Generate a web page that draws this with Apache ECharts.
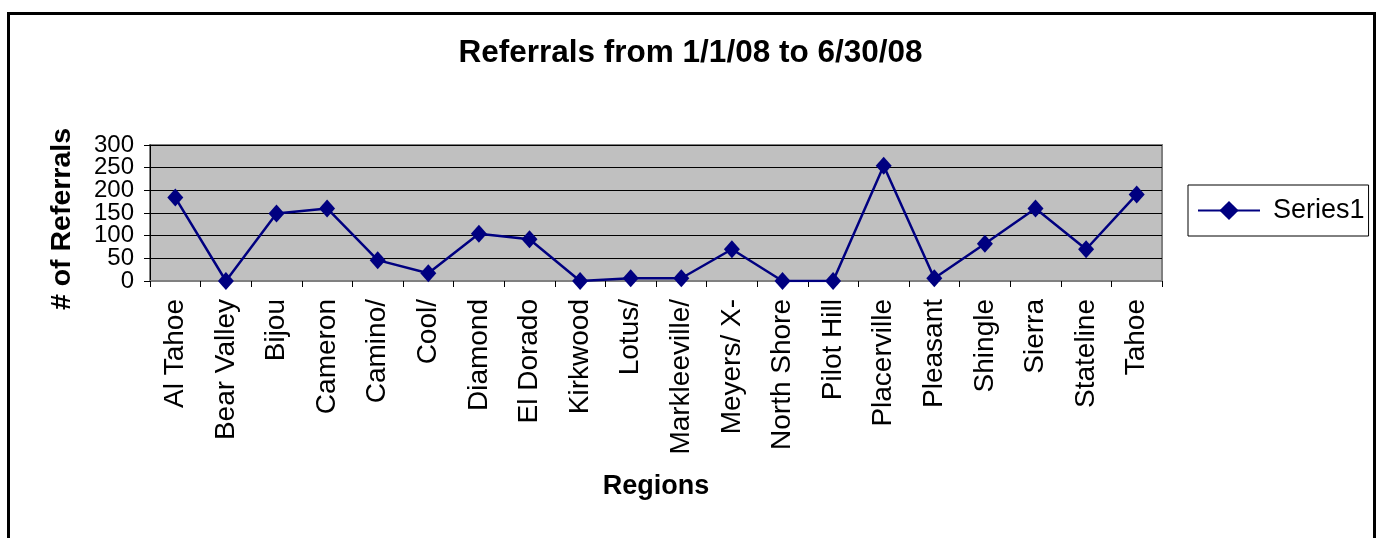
<!DOCTYPE html>
<html>
<head>
<meta charset="utf-8">
<script src="https://cdn.jsdelivr.net/npm/echarts@6/dist/echarts.min.js"></script>
<style>
html,body{margin:0;padding:0;background:#fff;}
#main{width:1381px;height:538px;}
</style>
</head>
<body>
<div id="main"></div>
<script>
var categories = ["Al Tahoe","Bear Valley","Bijou","Cameron","Camino/","Cool/","Diamond","El Dorado","Kirkwood","Lotus/","Markleeville/","Meyers/ X-","North Shore","Pilot Hill","Placerville","Pleasant","Shingle","Sierra","Stateline","Tahoe"];
var series1 = [184,0,149,160,46,17,104,92,0,6,6,70,0,0,254,6,82,160,70,191];
var yTicksEven = [0,100,200,300];
var yTicksOdd = [50,150,250];

var FONT = "'Liberation Sans', Arial, sans-serif";
function yLabel(list){
  return {margin:16,fontFamily:FONT,fontSize:24,color:'#000',
    showMinLabel:true, showMaxLabel:true, hideOverlap:false,
    formatter:function(v){return list.indexOf(v)>=0?String(v):'';}};
}
var chart = echarts.init(document.getElementById('main'));
chart.setOption({
  animation:false,
  backgroundColor:'#ffffff',
  title:{
    text:'Referrals from 1/1/08 to 6/30/08',
    left:'center', top:32,
    textStyle:{fontFamily:FONT,fontSize:31.5,fontWeight:'bold',color:'#000'}
  },
  legend:{
    data:['Series1'],
    left:1188, top:185,
    orient:'vertical',
    padding:[12,4,12,9],
    borderColor:'#000', borderWidth:1,
    itemWidth:62, itemHeight:24,
    textStyle:{fontFamily:FONT,fontSize:27,color:'#000',padding:[0,0,0,8]}
  },
  grid:{
    left:150, right:219, top:145, bottom:257,
    show:true, backgroundColor:'#c0c0c0', borderColor:'#808080', borderWidth:2
  },
  xAxis:{
    type:'category', data:categories, boundaryGap:true,
    name:'Regions', nameLocation:'middle', nameGap:192,
    nameTextStyle:{fontFamily:FONT,fontSize:27,fontWeight:'bold',color:'#000'},
    axisLine:{show:true,lineStyle:{color:'#808080',width:2}},
    axisTick:{show:true,interval:0,length:6,inside:false,lineStyle:{color:'#000',width:1}},
    axisLabel:{interval:0,rotate:90,margin:18,fontFamily:FONT,fontSize:28,color:'#000'},
    splitLine:{show:false}
  },
  yAxis:[{
    type:'value', min:0, max:300, interval:50, position:'left',
    axisLine:{show:true,lineStyle:{color:'#000',width:1}},
    axisTick:{show:true,length:6,inside:false,lineStyle:{color:'#000',width:1}},
    axisLabel:yLabel(yTicksEven),
    splitLine:{show:true,lineStyle:{color:'#000',width:1}}
  },{
    type:'value', min:0, max:300, interval:50, position:'left', offset:0,
    axisLine:{show:false}, axisTick:{show:false}, splitLine:{show:false},
    axisLabel:yLabel(yTicksOdd)
  }],
  series:[{
    name:'Series1', type:'line', data:series1, yAxisIndex:0,
    symbol:'diamond', symbolSize:[16,18],
    itemStyle:{color:'#000080'},
    lineStyle:{color:'#000080',width:2.5}
  }],
  graphic:[{
    type:'rect', silent:true,
    shape:{x:8.5,y:13.5,width:1366,height:600},
    style:{fill:'none',stroke:'#000',lineWidth:3}
  },{
    type:'text', silent:true,
    x:62, y:219, rotation:Math.PI/2,
    style:{text:'# of Referrals',fontFamily:FONT,fontSize:28.5,fontWeight:'bold',fill:'#000',
      align:'center',verticalAlign:'middle'}
  }]
});
</script>
</body>
</html>
